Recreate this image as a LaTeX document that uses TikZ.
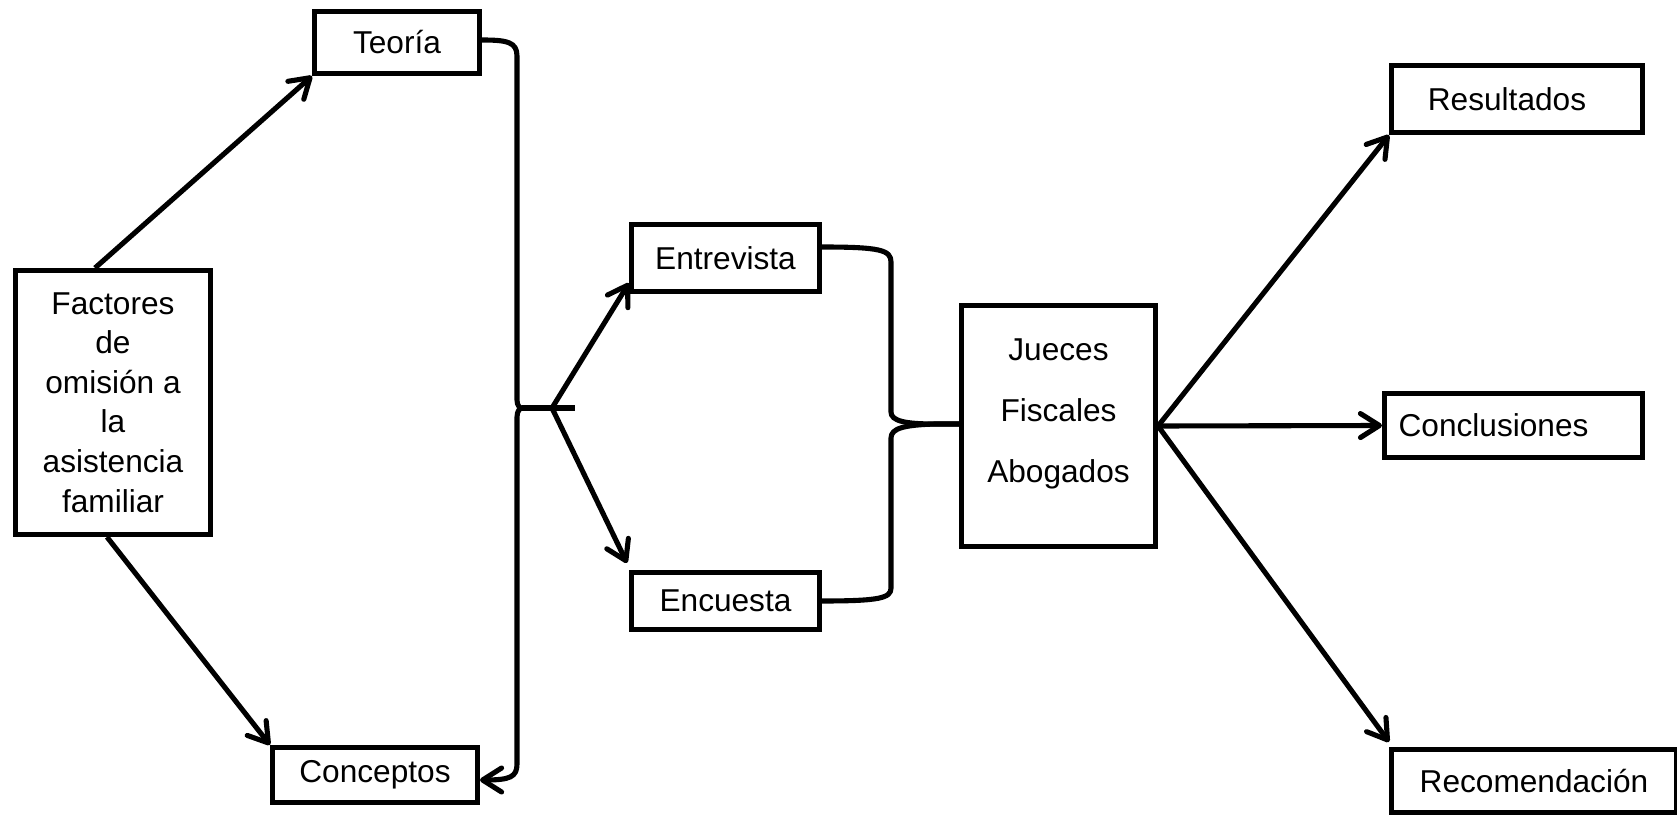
\documentclass[tikz,border=0pt]{standalone}
\usepackage{fontspec}
\setmainfont{Liberation Sans}
\usetikzlibrary{arrows.meta,calc}
\tikzset{
  boxnode/.style={draw=black, line width=2.9pt, rectangle, inner sep=0pt, align=center,
    font=\fontsize{18}{22.5}\selectfont},
  conn/.style={draw=black, line width=2.9pt, line join=round},
  arr/.style={conn, -{Straight Barb[length=3.8mm,width=4.8mm,round]}}
}
\begin{document}
\begin{tikzpicture}[x=0.02cm, y=-0.02cm]
\useasboundingbox (0,0) rectangle (1677,817);
% boxes
\node[boxnode, minimum width=3.9cm, minimum height=5.28cm] (fac) at (113,402.5)
  {Factores\\de\\omisión a\\la\\asistencia\\familiar};
\node[boxnode, minimum width=3.3cm, minimum height=1.24cm] (teo) at (397,42.5) {Teoría};
\node[boxnode, minimum width=4.1cm, minimum height=1.1cm] (con) at (375,775) {Conceptos};
\node[boxnode, minimum width=3.76cm, minimum height=1.34cm] (ent) at (725.5,258) {Entrevista};
\node[boxnode, minimum width=3.76cm, minimum height=1.14cm] (enc) at (725.5,601) {Encuesta};
\node[boxnode, minimum width=3.88cm, minimum height=4.82cm,
  label={[align=center, font=\fontsize{18}{34.7}\selectfont, yshift=0.24cm]center:Jueces\\Fiscales\\Abogados}] (jue) at (1058.5,426) {};
\node[boxnode, minimum width=5.02cm, minimum height=1.34cm] (res) at (1517,99) {Resultados\hspace{0.4cm}};
\node[boxnode, minimum width=5.16cm, minimum height=1.28cm] (cnc) at (1513.5,425.5) {Conclusiones\hspace{0.8cm}};
\node[boxnode, minimum width=5.7cm, minimum height=1.26cm] (rec) at (1534,781) {Recomendación};
% helper coordinates
\coordinate (tipA) at (522,408);
\coordinate (hub) at (552,408);
\coordinate (barEnd) at (575,408);
% arrows from Factores
\draw[arr] ($(fac.north)+(-18,0)$) -- (teo.south west);
\draw[arr] ($(fac.south)+(-6,0)$) -- (con.north west);
% brace Teoria / Conceptos
\draw[conn] ($(teo.east)+(0,-2.5)$) .. controls (507,40) and (517,42) .. (517,56)
  -- (517,400) .. controls (517,406) and (520,408) .. (tipA);
\draw[arr] (tipA) .. controls (520,408) and (517,411) .. (517,417)
  -- (517,764) .. controls (517,777) and (510,780) .. ($(con.east)+(0,5)$);
\draw[conn] (tipA) -- (barEnd);
% arrows to Entrevista / Encuesta
\draw[arr] (hub) -- ($(ent.south west)+(0,-11)$);
\draw[arr] (hub) -- ($(enc.north west)+(-2,-7)$);
% brace Entrevista / Encuesta to Jueces
\draw[conn] ($(ent.east)+(0,-11)$) .. controls (880,247) and (891,250) .. (891,262)
  -- (891,412) .. controls (891,421) and (905,424) .. (935,424) -- ($(jue.west)+(0,-2)$);
\draw[conn] ($(jue.west)+(0,-2)$) -- (935,424) .. controls (905,425) and (891,428) .. (891,438)
  -- (891,588) .. controls (891,598) and (880,601) .. (enc.east);
% arrows to results
\draw[arr] (jue.east) -- (res.south west);
\draw[arr] (jue.east) -- (cnc.west);
\draw[arr] (jue.east) -- ($(rec.north west)+(0,-5)$);
\end{tikzpicture}
\end{document}
